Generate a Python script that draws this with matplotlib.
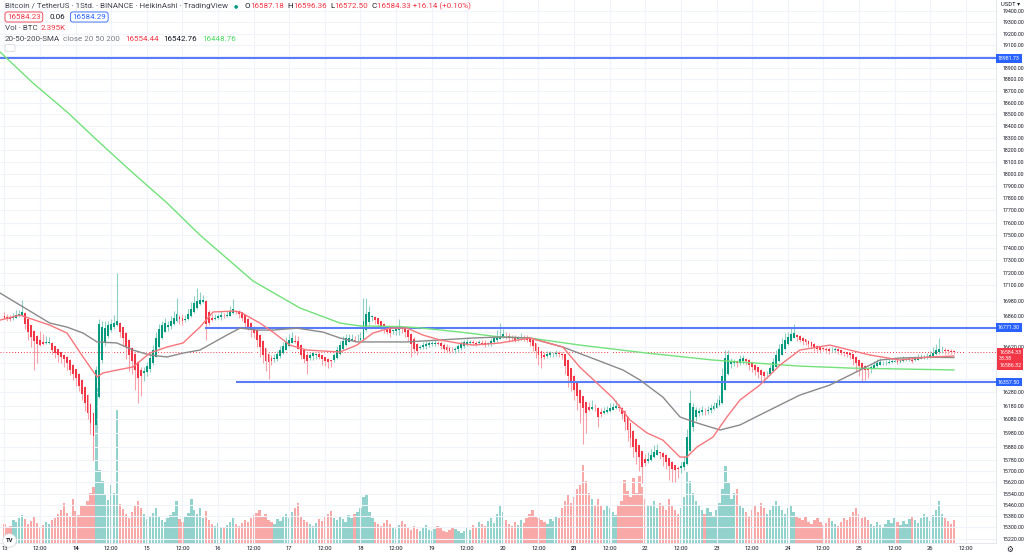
import numpy as np
import matplotlib
matplotlib.use("Agg")
import matplotlib.pyplot as plt
from matplotlib.ticker import FixedLocator, FixedFormatter, NullLocator
from matplotlib.patches import Circle, FancyBboxPatch

plt.rcParams['font.family'] = ['Roboto', 'DejaVu Sans']

# ---- Heikin Ashi closes, one per hour from 13 Nov 00:00 ----
ha_close = [
    16850, 16835, 16840, 16855, 16870, 16880, 16895, 16800, 16740, 16700, 16670, 16650, 16640, 16650, 16655, 16660, 16600, 16580, 16560, 16545,
    16530, 16500, 16450, 16420, 16390, 16330, 16270, 16200, 16130, 16050, 15960, 16450, 16800, 16780, 16770, 16790, 16800, 16810, 16820, 16740,
    16690, 16620, 16560, 16520, 16450, 16390, 16400, 16440, 16480, 16540, 16600, 16690, 16760, 16790, 16810, 16790, 16820, 16850, 16880, 16840,
    16820, 16840, 16880, 16920, 16960, 16980, 16990, 16985, 16800, 16810, 16830, 16850, 16860, 16870, 16860, 16870, 16900, 16920, 16900, 16880,
    16850, 16810, 16780, 16750, 16730, 16680, 16620, 16560, 16520, 16510, 16520, 16540, 16570, 16600, 16630, 16660, 16680, 16690, 16660, 16610,
    16560, 16530, 16520, 16560, 16580, 16570, 16550, 16530, 16520, 16510, 16520, 16560, 16600, 16640, 16670, 16690, 16690, 16680, 16670, 16680,
    16690, 16820, 16880, 16890, 16860, 16830, 16800, 16780, 16760, 16740, 16730, 16750, 16760, 16770, 16760, 16740, 16700, 16650, 16610, 16590,
    16620, 16640, 16650, 16655, 16650, 16655, 16650, 16630, 16610, 16600, 16590, 16600, 16610, 16630, 16650, 16660, 16665, 16660, 16655, 16650,
    16660, 16650, 16640, 16650, 16670, 16690, 16700, 16710, 16720, 16705, 16690, 16690, 16680, 16690, 16700, 16690, 16680, 16660, 16630, 16590,
    16560, 16540, 16550, 16570, 16575, 16570, 16580, 16570, 16560, 16480, 16400, 16350, 16300, 16250, 16200, 16160, 16130, 16150, 16170, 16160,
    16100, 16120, 16140, 16150, 16160, 16170, 16180, 16160, 16120, 16060, 16000, 15940, 15880, 15840, 15800, 15730, 15760, 15790, 15820, 15840,
    15855, 15830, 15800, 15770, 15740, 15720, 15710, 15715, 15740, 15770, 15950, 16200, 16170, 16150, 16140, 16150, 16140, 16150, 16160, 16180,
    16200, 16220, 16400, 16540, 16560, 16520, 16510, 16500, 16530, 16540, 16520, 16490, 16470, 16450, 16430, 16410, 16400, 16420, 16460, 16510,
    16560, 16610, 16650, 16680, 16700, 16720, 16730, 16700, 16680, 16670, 16660, 16650, 16630, 16620, 16610, 16600, 16610, 16600, 16590, 16600,
    16610, 16590, 16580, 16575, 16570, 16560, 16530, 16500, 16480, 16460, 16450, 16450, 16470, 16490, 16500, 16510, 16500, 16505, 16510, 16515,
    16520, 16510, 16520, 16530, 16525, 16530, 16520, 16530, 16540, 16545, 16540, 16550, 16560, 16580, 16600, 16610, 16600, 16595, 16590, 16585,
    16584.33,
]
ha_open_first = 16860.0

# wick length above / below the body (USDT)
wick_up = [
    30, 20, 25, 30, 35, 30, 90, 10, 5, 5, 5, 5, 70, 60, 50, 40,
    5, 5, 5, 5, 5, 5, 5, 5, 5, 5, 5, 5, 5, 5, 5,
    30, 40, 40, 50, 30, 40, 60, 380,
    10, 5, 5, 5, 5, 5, 5,
    20, 30, 30, 40, 40, 50, 40, 30, 40,
    30, 40, 50, 120, 20, 30, 30,
    40, 50, 60, 100, 60, 40, 10,
    20, 30, 30, 20, 30, 20, 30, 40, 75,
    10, 5, 5, 5, 5, 5, 5, 5, 5, 5, 5, 5,
    20, 30, 20, 30, 30, 40, 40, 50, 40, 40,
    10, 5, 10, 20, 5, 10, 20, 5, 5, 5, 5,
    20, 30, 30, 40, 30, 30, 40, 30, 40, 50,
    180, 120, 50,
    10, 5, 5, 5, 5, 5, 5, 5, 5, 70, 5, 5, 10, 5, 10, 5,
    20, 20, 20, 15, 20, 20, 20, 15, 15, 20, 20, 20, 15, 15, 20, 20, 20, 20, 20, 15, 20, 20, 20, 15, 20, 20, 50,
    100, 40, 30, 20, 20, 20, 20, 30, 20, 20,
    5, 5, 5, 5, 5,
    20, 20, 20, 15, 20, 15, 10,
    5, 5, 5, 5, 5, 5, 5, 5,
    40, 50, 30, 10,
    30, 30, 30, 40, 30, 40, 20,
    5, 5, 5, 5, 5, 5, 5, 5,
    40, 50, 40, 50, 40,
    5, 5, 5, 5, 5, 5, 10,
    30, 40, 60, 100,
    30, 20, 20, 30, 20, 30, 30,
    30, 30, 40, 60, 60, 40,
    20, 20, 20,
    30, 20, 10, 5, 5, 5, 5, 5, 10,
    20, 30, 30, 40, 40, 40, 50, 40, 50, 70,
    10, 5, 5, 5, 5, 5, 5, 5, 5, 10, 10, 15, 20, 15, 10, 5, 5, 5, 5, 5, 5, 5, 5, 5, 5,
    20, 30, 30, 30, 20, 20, 20, 25, 25, 20, 20, 25, 20, 20, 20, 25, 30, 25, 20, 25, 30,
    40, 50, 80, 30, 20, 15, 15, 12,
]
wick_dn = [
    10, 15, 20, 10, 5, 5, 10, 40, 60, 80, 220, 150, 10, 10, 5, 5,
    30, 40, 50, 40, 60, 50, 40, 50, 60, 40, 50, 60, 50, 80, 180,
    5, 5, 20, 20, 15, 10, 10, 10,
    40, 60, 90, 120, 100, 150, 190,
    150, 60, 30, 20, 10, 5, 5, 5, 5,
    30, 20, 10, 10, 40, 30, 20,
    5, 5, 5, 5, 5, 10, 120,
    20, 10, 10, 5, 20, 10, 5, 5, 5,
    20, 30, 30, 40, 30, 50, 40, 60, 70, 60, 80, 130,
    30, 20, 20, 10, 5, 5, 5, 5, 5, 5,
    30, 30, 100, 20, 30, 30, 20, 40, 40, 50, 50,
    10, 5, 5, 5, 5, 5, 5, 5, 5, 5,
    5, 5, 20,
    30, 30, 20, 30, 30, 20, 30, 20, 30, 40, 30, 40, 30, 100, 30, 30,
    15, 15, 20, 20, 15, 15, 15, 20, 20, 15, 15, 15, 20, 20, 20, 15, 15, 15, 15, 20, 15, 15, 20, 15, 15, 15, 10,
    5, 10, 20, 30, 20, 20, 20, 10, 20, 20,
    30, 40, 50, 70, 80,
    20, 15, 15, 20, 15, 20, 30,
    60, 80, 60, 80, 100, 150, 260, 150,
    10, 10, 20, 80,
    20, 10, 10, 5, 5, 5, 20,
    40, 60, 80, 60, 80, 90, 100, 115,
    20, 10, 10, 5, 5,
    40, 60, 50, 100, 100, 90, 60,
    30, 20, 5, 5,
    30, 30, 20, 20, 30, 20, 20,
    5, 5, 5, 5, 5, 10,
    30, 30, 30,
    20, 20, 30, 40, 40, 40, 40, 50, 50,
    30, 10, 5, 5, 5, 5, 5, 5, 5, 5,
    30, 20, 30, 20, 30, 20, 30, 20, 20, 20, 20, 20, 15, 15, 20, 20, 20, 20, 30, 40, 60, 80, 100, 80, 60,
    30, 10, 5, 5, 15, 10, 5, 5, 5, 15, 10, 5, 10, 5, 15, 5, 5, 5, 10, 5, 5,
    5, 5, 10, 20, 25, 20, 15, 12,
]

# volume in thousand BTC
volume_k = [
    2.0, 1.6, 1.8, 2.4, 2.2, 2.6, 2.9, 2.5, 2.0, 2.3, 2.8, 2.1, 1.7, 1.9, 2.2, 2.0, 2.4, 2.6, 3.0, 3.4,
    4.2, 3.1, 2.7, 4.6, 3.3, 2.9, 3.8, 4.0, 4.4, 5.2, 5.8, 16.1, 7.6, 6.5, 5.0, 4.5, 6.0, 5.2, 13.8, 4.1,
    3.5, 3.0, 2.6, 3.2, 3.8, 4.4, 3.6, 3.0, 2.5, 2.7, 3.1, 3.6, 2.8, 2.4, 2.2, 2.6, 2.9, 3.2, 4.4, 2.5,
    2.2, 2.7, 3.1, 4.6, 3.4, 3.0, 3.6, 2.6, 3.3, 2.4, 2.0, 1.8, 2.1, 1.7, 1.6, 1.9, 2.2, 2.6, 2.0, 1.8,
    2.1, 2.4, 2.2, 2.6, 2.9, 3.1, 3.4, 2.8, 3.0, 2.4, 2.2, 2.0, 2.5, 2.3, 2.7, 3.0, 2.6, 3.2, 3.6, 4.2,
    2.8, 2.4, 2.2, 2.0, 1.8, 2.1, 2.5, 2.3, 2.7, 3.0, 3.3, 2.6, 2.4, 2.8, 2.5, 2.2, 2.9, 2.6, 3.0, 3.2,
    3.6, 4.8, 5.0, 3.2, 2.6, 2.2, 2.0, 1.8, 2.1, 2.4, 2.0, 1.7, 1.5, 1.9, 2.3, 2.0, 1.6, 1.4, 1.8, 1.5,
    1.3, 1.6, 1.9, 1.4, 1.2, 1.5, 1.8, 1.6, 1.3, 1.1, 1.4, 1.7, 1.5, 1.2, 1.0, 1.3, 1.6, 1.4, 1.9, 1.7,
    2.2, 2.0, 1.8, 2.3, 2.6, 2.1, 3.0, 3.8, 3.2, 2.4, 2.0, 1.8, 2.2, 1.9, 2.4, 2.1, 2.6, 3.0, 3.4, 2.8,
    2.6, 2.4, 2.2, 2.0, 2.5, 2.3, 2.8, 2.6, 3.6, 4.4, 5.0, 4.2, 4.8, 5.6, 6.0, 8.1, 6.4, 5.2, 4.6, 4.0,
    4.6, 3.8, 3.4, 4.0, 3.6, 3.2, 2.9, 3.8, 4.4, 6.6, 5.4, 4.8, 6.8, 5.2, 7.0, 5.8, 4.6, 4.0, 3.8, 4.4,
    3.6, 4.2, 3.8, 3.4, 4.6, 4.0, 3.4, 3.0, 3.6, 4.8, 7.4, 6.4, 5.2, 4.4, 3.8, 3.4, 3.0, 3.6, 3.2, 2.8,
    3.4, 4.2, 5.6, 8.0, 6.2, 4.6, 5.2, 5.6, 4.0, 3.6, 3.2, 2.8, 3.4, 3.8, 3.2, 4.2, 3.6, 3.0, 3.4, 3.9,
    4.4, 3.8, 3.4, 3.0, 3.6, 4.0, 3.2, 2.8, 2.6, 2.4, 2.8, 2.2, 2.0, 2.4, 2.6, 2.2, 1.9, 2.1, 2.6, 2.3,
    2.0, 1.8, 2.2, 2.6, 2.4, 2.8, 3.2, 3.6, 3.0, 2.6, 2.8, 2.4, 2.0, 1.8, 2.2, 1.9, 1.7, 2.0, 2.4, 2.1,
    2.6, 2.2, 1.9, 2.3, 2.0, 2.5, 2.8, 2.4, 2.1, 2.6, 3.0, 2.7, 2.3, 2.9, 3.4, 4.4, 3.0, 2.6, 2.3, 2.0,
    2.395,
]

# moving averages (hour, price)
sma20_h = [-1.5, 5.2, 15.3, 21.1, 26.5, 31.2, 33.2, 37.9, 43.3, 49.0, 54.8, 60.2, 65.9, 70.3, 77.0, 79.4,
           86.1, 90.5, 96.2, 101.9, 113.1, 118.8, 124.2, 129.9, 135.7, 141.0, 146.8, 152.5, 157.9, 167.0,
           177.1, 188.2, 193.9, 199.7, 205.1, 210.8, 216.5, 221.9, 227.7, 230.0, 233.4, 238.8, 243.5,
           247.9, 254.6, 261.4, 268.1, 278.2, 291.7, 301.8, 311.9, 320.0]
sma20_v = [16830, 16869, 16791, 16730, 16547, 16396, 16426, 16448, 16471, 16577, 16623, 16654, 16776, 16893,
           16900, 16893, 16807, 16738, 16638, 16600, 16585, 16638, 16730, 16768, 16768, 16715, 16677, 16654,
           16638, 16654, 16692, 16623, 16471, 16350, 16238, 16075, 15980, 15927, 15803, 15803, 15876, 15949,
           16097, 16223, 16335, 16486, 16600, 16638, 16562, 16524, 16547, 16554.44]
sma50_h = [-1.5, 5.2, 15.3, 21.1, 26.5, 31.2, 37.9, 43.3, 49.0, 54.8, 60.2, 65.9, 75.0, 79.4, 85.1, 90.5,
           98.6, 107.3, 113.1, 118.8, 124.2, 135.7, 146.8, 157.9, 167.0, 177.1, 188.2, 199.7, 208.5, 214.2,
           221.9, 227.7, 233.4, 241.2, 247.9, 254.6, 268.1, 278.2, 288.4, 295.1, 301.8, 311.9, 320.0]
sma50_v = [17041, 16947, 16807, 16776, 16730, 16662, 16654, 16600, 16562, 16547, 16577, 16600, 16715, 16768,
           16753, 16753, 16768, 16738, 16692, 16662, 16662, 16662, 16677, 16692, 16700, 16692, 16623, 16524,
           16448, 16373, 16245, 16097, 16053, 16001, 16038, 16112, 16260, 16335, 16448, 16524, 16539, 16545,
           16542.76]
sma200_h = [-1.5, 9.6, 21.1, 32.2, 43.3, 54.8, 65.9, 83.8, 99.6, 113.1, 119.8, 133.3, 140.0, 153.5, 167.0,
            177.1, 193.9, 216.5, 238.8, 247.9, 268.1, 285.0, 301.8, 320.0]
sma200_v = [19038, 18768, 18520, 18258, 18008, 17761, 17501, 17135, 16924, 16807, 16785, 16780, 16770, 16738,
            16700, 16692, 16638, 16577, 16524, 16509, 16478, 16463, 16456, 16448.76]

# drawn horizontal levels (price, start hour)
levels = [18981.73, 16771.30, 16357.50]
level_start = [-1.5, 67.6, 78.0]
last_price = 16584.33

xtick_hours = list(range(0, 325, 12))
xtick_labels = ["13", "12:00", "14", "12:00", "15", "12:00", "16", "12:00", "17", "12:00",
                "18", "12:00", "19", "12:00", "20", "12:00", "21", "12:00", "22", "12:00",
                "23", "12:00", "24", "12:00", "25", "12:00", "26", "12:00"]
bold_labels = ["14", "21"]
ytick_vals = [19400, 19300, 19200, 19100, 19000, 18900, 18800, 18700, 18600, 18500, 18400, 18300,
              18200, 18100, 18000, 17900, 17800, 17700, 17600, 17500, 17400, 17300, 17200, 17100,
              16980, 16860, 16740, 16620, 16500, 16380, 16280, 16180, 16080, 15980, 15880, 15780,
              15700, 15620, 15540, 15460, 15380, 15300, 15220]
hidden_ticks = [19000, 16740, 16500, 16380]   # covered by the price tags

# ---- colours ----
GREEN = '#089981'
RED = '#f23645'
TXT = '#131722'
GREY = '#787b86'
BLUE = '#2962ff'

# ---- heikin ashi bodies ----
c = np.array(ha_close, dtype=float)
n = len(c)
o = np.empty(n)
o[0] = ha_open_first
for i in range(1, n):
    o[i] = (o[i - 1] + c[i - 1]) / 2
hi = np.maximum(o, c) + np.array(wick_up)
lo = np.minimum(o, c) - np.array(wick_dn)
x = np.arange(n)
up = c >= o
dn = ~up

fig = plt.figure(figsize=(10.24, 5.56), dpi=100)
W, H = 1024, 556
ax = fig.add_axes([0, 13 / H, 996 / W, 543 / H])
axv = ax.twinx()
ax.set_zorder(axv.get_zorder() + 1)
ax.patch.set_visible(False)

# volume
vcol = np.where(up, '#92d2cc', '#f8a9a7')
axv.bar(x, volume_k, width=0.78, color=vcol, linewidth=0)
axv.set_ylim(0, 56.5)
axv.set_yticks([])
for s in axv.spines.values():
    s.set_visible(False)

ax.set_yscale('log')
ax.set_xlim(-1.5, 334.2)
ax.set_ylim(15191, 19498)

# grid
ax.grid(True, color='#f0f3fa', linewidth=0.8, zorder=0)

# level lines
for lv, st in zip(levels, level_start):
    ax.hlines(lv, st, 334.2, color='#5b7cf7', linewidth=1.5, zorder=4)
ax.axhline(last_price, color=RED, linestyle=(0, (1, 2)), linewidth=0.7, zorder=1)

# candles
ax.vlines(x[up], lo[up], hi[up], color='#8fd0c4', linewidth=0.8, zorder=2)
ax.vlines(x[dn], lo[dn], hi[dn], color='#f8a0a8', linewidth=0.8, zorder=2)
ax.bar(x[up], np.maximum((c - o)[up], 4), bottom=o[up], width=0.64, color=GREEN, linewidth=0, zorder=3)
ax.bar(x[dn], np.maximum((o - c)[dn], 4), bottom=c[dn], width=0.64, color=RED, linewidth=0, zorder=3)

# moving averages
ax.plot(sma200_h, sma200_v, color='#72e27a', linewidth=1.0, zorder=5)
ax.plot(sma50_h, sma50_v, color='#8a8a8a', linewidth=1.0, zorder=5)
ax.plot(sma20_h, sma20_v, color='#f7767c', linewidth=1.0, zorder=5)

# axes styling
ax.yaxis.tick_right()
ax.yaxis.set_major_locator(FixedLocator(ytick_vals))
ax.yaxis.set_major_formatter(FixedFormatter(
    ["" if v in hidden_ticks else f"{v:.2f}" for v in ytick_vals]))
ax.yaxis.set_minor_locator(NullLocator())
ax.tick_params(axis='y', length=0, pad=4.5, labelsize=3.8, labelcolor=TXT)
ax.set_xticks(xtick_hours)
ax.set_xticklabels(xtick_labels)
ax.tick_params(axis='x', length=0, pad=2.5, labelsize=4.2, labelcolor=TXT)
for t in ax.get_xticklabels():
    if t.get_text() in bold_labels:
        t.set_fontweight('bold')
for k, s in ax.spines.items():
    s.set_visible(k in ('right', 'bottom'))
    s.set_color('#e0e3eb')
    s.set_linewidth(0.6)

# price scale labels
ytr = ax.get_yaxis_transform()
for lv in levels:
    ax.text(1.002, lv, f"{lv:.2f}", transform=ytr, ha='left', va='center', fontsize=3.8,
            color='white', clip_on=False, zorder=10,
            bbox=dict(boxstyle='square,pad=0.35', fc=BLUE, ec='none'))
ax.annotate(f"{last_price:.2f}\n33:38\n16586.32", xy=(1.0, last_price), xycoords=ytr,
            xytext=(2.3, 1.6), textcoords='offset points', ha='left', va='top',
            fontsize=3.8, color='white', linespacing=1.35, annotation_clip=False, zorder=10,
            bbox=dict(boxstyle='square,pad=0.35', fc=RED, ec='none'))

fig.text(1001 / W, 1 - 4 / H, "USDT ▾", fontsize=4.2, color=TXT, ha='left', va='center')
fig.text(1010 / W, 1 - 549 / H, "⚙", fontsize=5.5, color=TXT, ha='center', va='center',
         family=['DejaVu Sans'])

# tradingview badge
fig.patches.append(Circle((0.095, 0.155), 0.068, transform=fig.dpi_scale_trans,
                          fc='white', ec='#d1d4dc', lw=0.5, zorder=20))
fig.text(9.5 / W, 1 - 540.5 / H, "TV", fontsize=4.2, fontweight='bold', color=TXT,
         ha='center', va='center', zorder=21)

# ---- legend rows ----
renderer = fig.canvas.get_renderer()
FS = 5.8


def row(y_px, pieces, x_px=5.0):
    xp = x_px
    for txt, col, gap, extra in pieces:
        kw = dict(color=col, fontsize=FS, ha='left', va='center')
        kw.update(extra)
        t = fig.text(xp / W, 1 - y_px / H, txt, **kw)
        bb = t.get_window_extent(renderer=renderer)
        xp = bb.x1 + gap
    return xp


box_red = dict(boxstyle='round,pad=0.25,rounding_size=0.3', fc='white', ec=RED, lw=0.6)
box_blue = dict(boxstyle='round,pad=0.25,rounding_size=0.3', fc='white', ec=BLUE, lw=0.6)

row(6, [("Bitcoin / TetherUS · 1Std. · BINANCE · HeikinAshi · TradingView", '#434651', 6, {}),
        ("●", GREEN, 6, {'fontsize': 3.5}),
        ("O", TXT, 0.5, {}), ("16587.18", RED, 3, {}),
        ("H", TXT, 0.5, {}), ("16596.36", RED, 3, {}),
        ("L", TXT, 0.5, {}), ("16572.50", RED, 3, {}),
        ("C", TXT, 0.5, {}), ("16584.33 +16.14 (+0.10%)", RED, 0, {})])
row(17, [("16584.23", RED, 9, {'bbox': box_red}),
         ("0.06", TXT, 7, {}),
         ("16584.29", BLUE, 0, {'bbox': box_blue})], x_px=7)
row(28, [("Vol · BTC", '#434651', 3, {}), ("2.395K", RED, 0, {})])
row(39, [("20-50-200-SMA", '#434651', 3, {}), ("close 20 50 200", GREY, 5, {}),
         ("16554.44", RED, 5, {}), ("16542.76", TXT, 5, {}), ("16448.76", '#4cd964', 0, {})])

fig.patches.append(FancyBboxPatch((0.05, 5.56 - 0.515), 0.1, 0.07, boxstyle='round,pad=0,rounding_size=0.015',
                                  transform=fig.dpi_scale_trans, fc='white', ec='#d1d4dc', lw=0.5))

fig.savefig("out.png", dpi=100, facecolor='white')
